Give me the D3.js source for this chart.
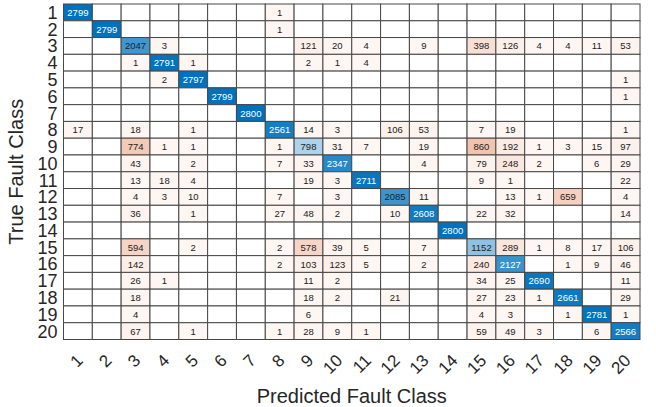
<!DOCTYPE html>
<html><head><meta charset="utf-8">
<script src="https://cdn.jsdelivr.net/npm/d3@7"></script>
<style>html,body{margin:0;padding:0;background:#fff;} text{font-family:"Liberation Sans",Arial,Helvetica,sans-serif;}</style>
</head><body>
<svg id="chart" width="656" height="407"></svg>
<script>
const classes = ["1","2","3","4","5","6","7","8","9","10","11","12","13","14","15","16","17","18","19","20"];
const confusion = [
 [2799,0,0,0,0,0,0,1,0,0,0,0,0,0,0,0,0,0,0,0],
 [0,2799,0,0,0,0,0,1,0,0,0,0,0,0,0,0,0,0,0,0],
 [0,0,2047,3,0,0,0,0,121,20,4,0,9,0,398,126,4,4,11,53],
 [0,0,1,2791,1,0,0,0,2,1,4,0,0,0,0,0,0,0,0,0],
 [0,0,0,2,2797,0,0,0,0,0,0,0,0,0,0,0,0,0,0,1],
 [0,0,0,0,0,2799,0,0,0,0,0,0,0,0,0,0,0,0,0,1],
 [0,0,0,0,0,0,2800,0,0,0,0,0,0,0,0,0,0,0,0,0],
 [17,0,18,0,1,0,0,2561,14,3,0,106,53,0,7,19,0,0,0,1],
 [0,0,774,1,1,0,0,1,798,31,7,0,19,0,860,192,1,3,15,97],
 [0,0,43,0,2,0,0,7,33,2347,0,0,4,0,79,248,2,0,6,29],
 [0,0,13,18,4,0,0,0,19,3,2711,0,0,0,9,1,0,0,0,22],
 [0,0,4,3,10,0,0,7,0,3,0,2085,11,0,0,13,1,659,0,4],
 [0,0,36,0,1,0,0,27,48,2,0,10,2608,0,22,32,0,0,0,14],
 [0,0,0,0,0,0,0,0,0,0,0,0,0,2800,0,0,0,0,0,0],
 [0,0,594,0,2,0,0,2,578,39,5,0,7,0,1152,289,1,8,17,106],
 [0,0,142,0,0,0,0,2,103,123,5,0,2,0,240,2127,0,1,9,46],
 [0,0,26,1,0,0,0,0,11,2,0,0,0,0,34,25,2690,0,0,11],
 [0,0,18,0,0,0,0,0,18,2,0,21,0,0,27,23,1,2661,0,29],
 [0,0,4,0,0,0,0,0,6,0,0,0,0,0,4,3,0,1,2781,1],
 [0,0,67,0,1,0,0,1,28,9,1,0,0,0,59,49,3,0,6,2566]
];
const xTitle = "Predicted Fault Class";
const yTitle = "True Fault Class";

const svg = d3.select("#chart");
const L = 63.5, R = 640, T = 4, B = 339.5;
const x = d3.scaleBand().domain(classes).range([L, R]);
const y = d3.scaleBand().domain(classes).range([T, B]);
const maxV = d3.max(confusion.flat());
const diagC = d3.interpolateRgb("#ffffff", "rgb(0,114,189)");
const offC = d3.interpolateRgb("#ffffff", "rgb(217,83,25)");
const tScale = d3.scaleLinear().domain([0, maxV]).range([0.05, 1]);

const cells = [];
confusion.forEach((row, i) => row.forEach((v, j) => cells.push({r: classes[i], c: classes[j], v, d: i === j})));

const g = svg.append("g");
g.selectAll("rect.cell").data(cells).join("rect")
  .attr("x", d => x(d.c)).attr("y", d => y(d.r))
  .attr("width", x.bandwidth()).attr("height", y.bandwidth())
  .attr("fill", d => d.v === 0 ? "#fff" : (d.d ? diagC(tScale(d.v)) : offC(tScale(d.v))))
  .attr("stroke", "#484848").attr("stroke-width", 1);

g.selectAll("text.val").data(cells.filter(d => d.v > 0)).join("text")
  .attr("x", d => x(d.c) + x.bandwidth() / 2)
  .attr("y", d => y(d.r) + y.bandwidth() / 2)
  .attr("text-anchor", "middle").attr("dominant-baseline", "central")
  .attr("font-size", 9.5)
  .attr("fill", d => d.v / maxV > 0.75 ? "#fff" : "#222")
  .text(d => d.v);

// y tick labels
const yAxis = d3.axisLeft(y).tickSize(0).tickPadding(6);
const ya = svg.append("g").attr("transform", `translate(${L},0)`).call(yAxis);
ya.select(".domain").remove();
ya.selectAll("text").attr("font-size", 18).attr("fill", "#262626")
  .attr("font-family", "Liberation Sans, Arial, sans-serif").attr("dy", "0.36em");

// x tick labels
const xAxis = d3.axisBottom(x).tickSize(0).tickPadding(0);
const xa = svg.append("g").attr("transform", `translate(0,${B})`).call(xAxis);
xa.select(".domain").remove();
xa.selectAll("text").attr("font-size", 17).attr("fill", "#262626")
  .attr("font-family", "Liberation Sans, Arial, sans-serif")
  .attr("text-anchor", "end").attr("dy", null).attr("y", 0)
  .attr("transform", "translate(6,22) rotate(-45)");

svg.append("text").attr("x", (L + R) / 2).attr("y", 403)
  .attr("text-anchor", "middle").attr("font-size", 20).attr("fill", "#262626").text(xTitle);
svg.append("text").attr("transform", `translate(23,${(T + B) / 2}) rotate(-90)`)
  .attr("text-anchor", "middle").attr("font-size", 20).attr("fill", "#262626").text(yTitle);
</script>
</body></html>
